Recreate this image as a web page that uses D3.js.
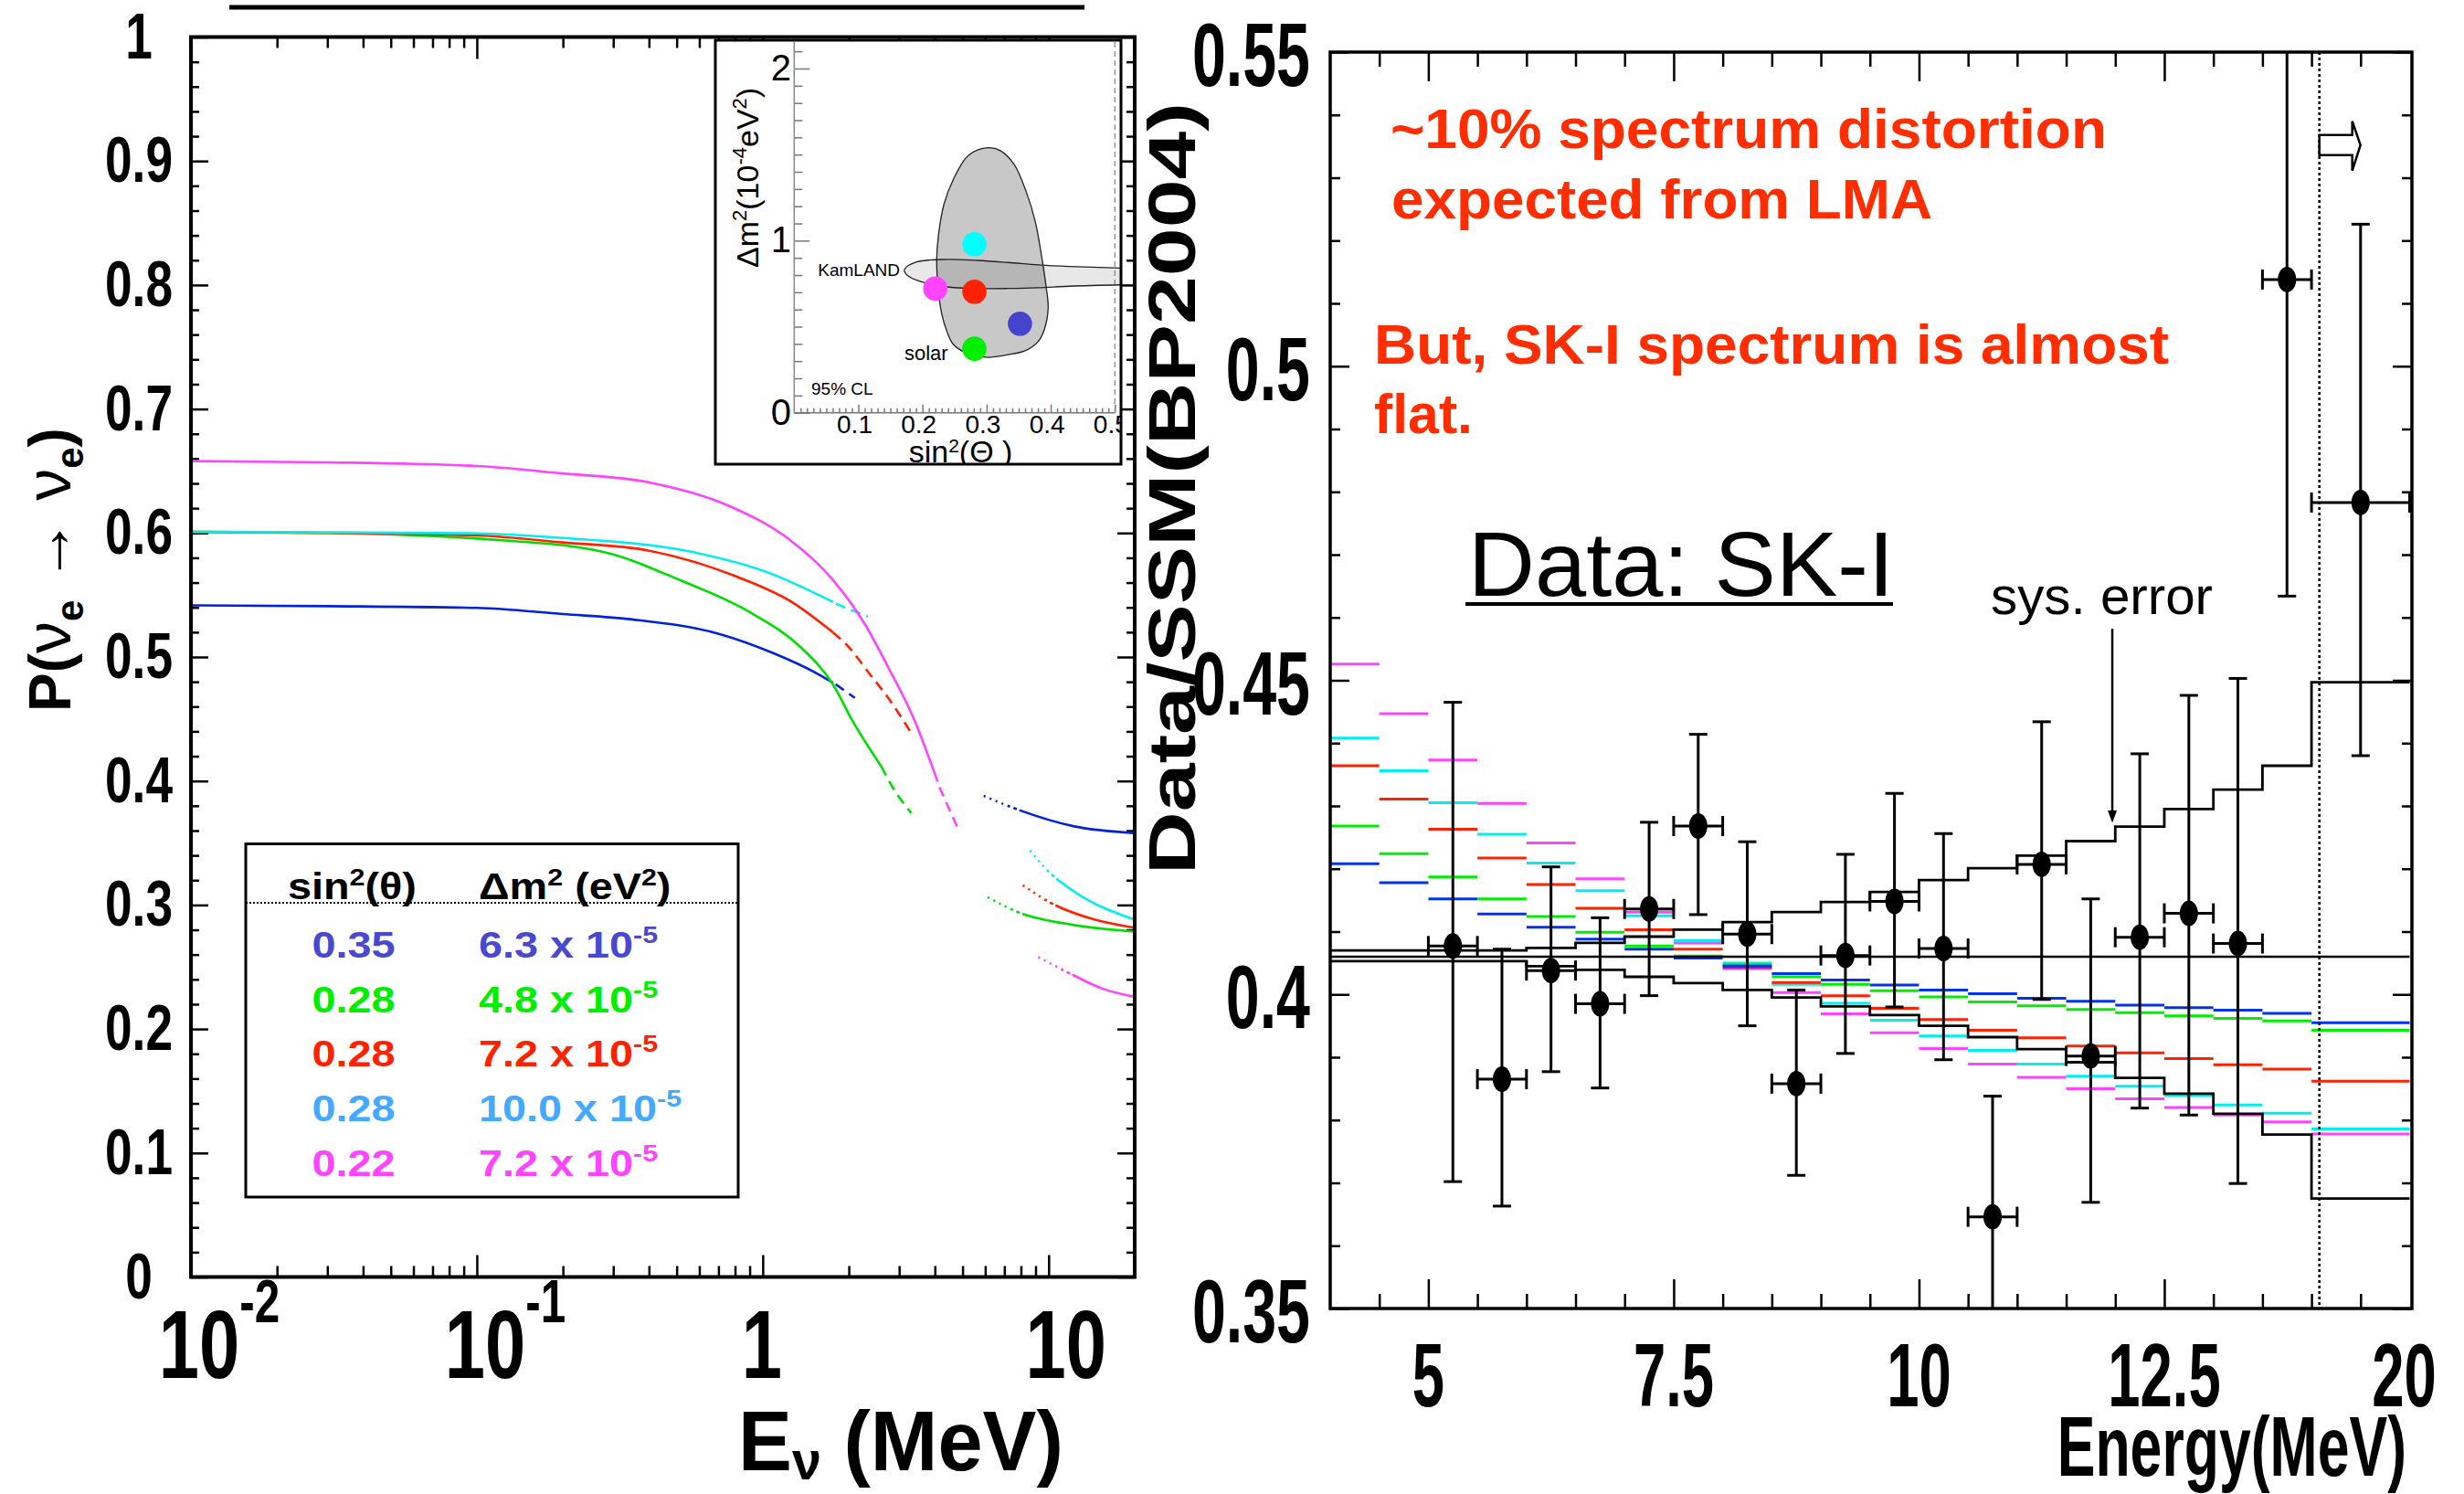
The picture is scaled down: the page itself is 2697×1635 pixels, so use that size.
<!DOCTYPE html>
<html>
<head>
<meta charset="utf-8">
<script src="https://cdn.jsdelivr.net/npm/d3@7"></script>
<style>
body { margin: 0; background: #fff; }
text { font-family: "Liberation Sans", Arial, Helvetica, sans-serif; }
</style>
</head>
<body>
<div id="chart"></div>
<script>
const width = 2697;
const height = 1635;

// ---------- left panel: survival probability curves ----------
const blueLow = [[0.01,0.5416],[0.03,0.541],[0.1,0.5396],[0.2,0.5346],[0.349,0.5303],[0.712,0.5183],[1.084,0.5033],[1.548,0.4867],[1.762,0.4792]];
const blueMid = [[1.80,0.478],[2.10,0.467]];
const blueHigh = [[5.93,0.388],[7.81,0.3769],[12.29,0.3634],[19.9,0.358]];

const greenLow = [[0.01,0.601],[0.03,0.600],[0.1,0.5955],[0.27,0.5853],[0.515,0.5619],[0.923,0.5348],[1.36,0.5077],[1.762,0.4777],[2.07,0.4477],[2.60,0.4116]];
const greenMid = [[2.60,0.4116],[2.82,0.3965],[3.31,0.374]];
const greenHigh = [[6.12,0.3063],[7.81,0.2943],[12.29,0.2838],[19.9,0.2786]];

const redLow = [[0.01,0.601],[0.03,0.600],[0.1,0.598],[0.2,0.5924],[0.397,0.5859],[0.81,0.5648],[1.275,0.5438],[1.762,0.5198]];
const redMid = [[1.762,0.5198],[2.005,0.5077],[2.358,0.4867],[2.773,0.4657],[3.31,0.4386]];
const redHigh = [[8.12,0.3159],[10.45,0.3003],[14.45,0.2883],[19.9,0.2817]];

const cyanLow = [[0.01,0.601],[0.03,0.6005],[0.1,0.5997],[0.2,0.596],[0.55,0.5853],[1.05,0.5679],[1.762,0.5444]];
const cyanMid = [[1.80,0.543],[2.33,0.5326]];
const cyanHigh = [[8.61,0.3439],[9.8,0.3289],[12.29,0.3108],[19.9,0.2883]];

const magentaLow = [[0.01,0.658],[0.03,0.657],[0.1,0.654],[0.2,0.648],[0.397,0.641],[0.76,0.622],[1.234,0.595],[1.762,0.562],[2.283,0.526],[2.773,0.490],[3.365,0.451],[4.09,0.3995]];
const magentaMid = [[4.15,0.395],[4.81,0.362]];
const magentaHigh = [[9.2,0.258],[12.29,0.243],[15.4,0.2326],[19.9,0.226]];

const curveColors = ["#0022dd", "#00dd00", "#ff2200", "#00eeee", "#ff44ff"];

const leftYTicks = [0, 0.1, 0.2, 0.3, 0.4, 0.5, 0.6, 0.7, 0.8, 0.9, 1];
const leftYLabels = ["0", "0.1", "0.2", "0.3", "0.4", "0.5", "0.6", "0.7", "0.8", "0.9", "1"];
const leftXTicks = [0.01, 0.1, 1, 10];
const leftXBase = ["10", "10", "1", "10"];
const leftXExp = ["-2", "-1", "", ""];
const leftMinorX = [0.02,0.03,0.04,0.05,0.06,0.07,0.08,0.09,0.2,0.3,0.4,0.5,0.6,0.7,0.8,0.9,2,3,4,5,6,7,8,9];

// legend
const legendSin = ["0.35", "0.28", "0.28", "0.28", "0.22"];
const legendDm = ["6.3", "4.8", "7.2", "10.0", "7.2"];
const legendColors = ["#4848d0", "#00ee00", "#ff2200", "#44aaff", "#ff44ff"];

// inset: allowed regions and the five parameter points
const solarContour = [[0.3025,1.540],[0.2717,1.496],[0.2479,1.354],[0.2336,1.213],[0.2251,1.036],[0.2222,0.894],[0.2242,0.735],[0.2299,0.576],[0.2384,0.469],[0.2479,0.398],[0.2645,0.354],[0.2859,0.328],[0.3049,0.322],[0.3333,0.337],[0.3618,0.363],[0.3809,0.416],[0.3903,0.487],[0.3960,0.611],[0.3927,0.735],[0.3856,0.912],[0.3761,1.107],[0.3618,1.284],[0.3429,1.443],[0.3215,1.523]];
const kamlandContour = [[0.1719,0.832],[0.1909,0.876],[0.2384,0.891],[0.2859,0.885],[0.3333,0.873],[0.3809,0.859],[0.4283,0.850],[0.5091,0.841],[0.53,0.84],[0.53,0.744],[0.5091,0.743],[0.4283,0.735],[0.3809,0.726],[0.3333,0.722],[0.2859,0.722],[0.2384,0.731],[0.1909,0.770],[0.1743,0.806]];
const insetSin = [0.352, 0.281, 0.281, 0.281, 0.220];
const insetDm = [0.517, 0.372, 0.703, 0.979, 0.721];
const insetColors = ["#4444cc", "#00ee00", "#ff2200", "#00ffff", "#ff44ff"];
const insetXTicks = [0.1, 0.2, 0.3, 0.4, 0.5];
const insetXLabels = ["0.1", "0.2", "0.3", "0.4", "0.5"];
const insetYTicks = [0, 1, 2];

// ---------- right panel: SK-I spectrum ----------
const binLo = [4,4.5,5,5.5,6,6.5,7,7.5,8,8.5,9,9.5,10,10.5,11,11.5,12,12.5,13,13.5,14];
const binHi = [4.5,5,5.5,6,6.5,7,7.5,8,8.5,9,9.5,10,10.5,11,11.5,12,12.5,13,13.5,14,15];

const modelMagenta = [0.4526,0.4447,0.4373,0.4304,0.4241,0.4184,0.4131,0.4082,0.4041,0.4003,0.3969,0.3939,0.3914,0.3889,0.3868,0.3850,0.3834,0.3820,0.3808,0.3797,0.3778];
const modelCyan = [0.4408,0.4356,0.4305,0.4255,0.4209,0.4165,0.4125,0.4086,0.4050,0.4016,0.3986,0.3959,0.3934,0.3911,0.3889,0.3870,0.3854,0.3839,0.3824,0.3811,0.3786];
const modelRed = [0.4364,0.4311,0.4263,0.4217,0.4175,0.4137,0.4103,0.4072,0.4043,0.4019,0.3998,0.3978,0.3960,0.3943,0.3931,0.3918,0.3907,0.3898,0.3888,0.3881,0.3862];
const modelGreen = [0.4268,0.4224,0.4187,0.4152,0.4124,0.4099,0.4077,0.4061,0.4047,0.4028,0.4016,0.4006,0.3996,0.3988,0.3982,0.3976,0.3971,0.3966,0.3962,0.3958,0.3943];
const modelBlue = [0.4208,0.4178,0.4152,0.4128,0.4107,0.4088,0.4072,0.4058,0.4045,0.4033,0.4023,0.4015,0.4007,0.4001,0.3994,0.3989,0.3983,0.3979,0.3975,0.3970,0.3955];
const modelColors = ["#ff44ff", "#00eeee", "#ff2200", "#00ee00", "#0033ee"];

const sysUpper = [0.4070,0.4070,0.4070,0.4070,0.4074,0.4082,0.4092,0.4103,0.4115,0.4131,0.4147,0.4163,0.4182,0.4201,0.4221,0.4244,0.4267,0.4295,0.4326,0.4364,0.4497];
const sysLower = [0.4053,0.4053,0.4053,0.4053,0.4045,0.4039,0.4028,0.4018,0.4007,0.3995,0.3981,0.3967,0.3950,0.3932,0.3913,0.3892,0.3867,0.3842,0.3810,0.3777,0.3675];
const flatLevel = 0.406;

const dataE = [5.25,5.75,6.25,6.75,7.25,7.75,8.25,8.75,9.25,9.75,10.25,10.75,11.25,11.75,12.25,12.75,13.25,13.75,14.5];
const dataLoE = [5,5.5,6,6.5,7,7.5,8,8.5,9,9.5,10,10.5,11,11.5,12,12.5,13,13.5,14];
const dataHiE = [5.5,6,6.5,7,7.5,8,8.5,9,9.5,10,10.5,11,11.5,12,12.5,13,13.5,14,15];
const dataV = [0.4077,0.3865,0.4038,0.3985,0.4136,0.4268,0.4096,0.3858,0.4062,0.4148,0.4073,0.3646,0.4207,0.3902,0.4091,0.4129,0.4081,0.5138,0.4783];
const dataHi = [0.4465,0.4072,0.4203,0.4122,0.4274,0.4414,0.4243,0.4007,0.4223,0.4320,0.4256,0.3838,0.4434,0.4152,0.4383,0.4476,0.4503,0.57,0.5226];
const dataLo = [0.3702,0.3663,0.3877,0.3851,0.3998,0.4127,0.3950,0.3712,0.3906,0.3980,0.3896,0.34,0.3992,0.3669,0.3819,0.3808,0.3699,0.4634,0.4380];

const rightYTicks = [0.35, 0.4, 0.45, 0.5, 0.55];
const rightYLabels = ["0.35", "0.4", "0.45", "0.5", "0.55"];
const rightXTicks = [5, 7.5, 10, 12.5, 15];
const rightXLabels = ["5", "7.5", "10", "12.5", "20"];
const dottedE = 14.08;

// ---------- drawing ----------
const svg = d3.select("#chart")
  .append("svg")
  .attr("width", width)
  .attr("height", height);

svg.append("rect").attr("width", width).attr("height", height).attr("fill", "#fff");

function txt(parent, x, y, s, o) {
  let tr = `translate(${x},${y})`;
  if (o.rot) tr += ` rotate(${o.rot})`;
  if (o.sx) tr += ` scale(${o.sx},1)`;
  const t = parent.append("text")
    .attr("transform", tr)
    .attr("font-size", o.size)
    .attr("font-weight", o.weight || "normal")
    .attr("text-anchor", o.anchor || "start")
    .attr("fill", o.fill || "#000");
  if (s != null) t.text(s);
  if (o.len) t.attr("textLength", o.len).attr("lengthAdjust", "spacingAndGlyphs");
  return t;
}

function tickAxis(parent, axis, tx, ty, size, color, sw) {
  const g = parent.append("g").attr("transform", `translate(${tx},${ty})`);
  g.call(axis.tickSize(size).tickSizeOuter(0).tickFormat(""));
  g.select(".domain").remove();
  g.selectAll("line").attr("stroke", color || "#000").attr("stroke-width", sw || 2.5);
  return g;
}

// ===== left panel =====
const xL = d3.scaleLog().domain([0.01, 20]).range([209, 1242]);
const yL = d3.scaleLinear().domain([0, 1]).range([1397.5, 40.5]);
const gL = svg.append("g");

// bar above the panel
gL.append("line").attr("x1", 251).attr("x2", 1187).attr("y1", 8).attr("y2", 8)
  .attr("stroke", "#000").attr("stroke-width", 5);

const leftMinorY = d3.range(1, 50).map(i => i * 0.02).filter((v, i) => (i + 1) % 5 !== 0);
tickAxis(gL, d3.axisBottom(xL).tickValues(leftMinorX), 0, yL(0), -12);
tickAxis(gL, d3.axisBottom(xL).tickValues([0.1, 1, 10]), 0, yL(0), -24);
tickAxis(gL, d3.axisTop(xL).tickValues(leftMinorX), 0, yL(1), -12);
tickAxis(gL, d3.axisTop(xL).tickValues([0.1, 1, 10]), 0, yL(1), -24);
tickAxis(gL, d3.axisLeft(yL).tickValues(leftMinorY), xL(0.01), 0, -9);
tickAxis(gL, d3.axisLeft(yL).tickValues(leftYTicks), xL(0.01), 0, -19);
tickAxis(gL, d3.axisRight(yL).tickValues(leftMinorY), xL(20), 0, -9);
tickAxis(gL, d3.axisRight(yL).tickValues(leftYTicks), xL(20), 0, -19);

const clipL = svg.append("clipPath").attr("id", "clipL");
clipL.append("rect").attr("x", xL(0.01)).attr("y", yL(1)).attr("width", xL(20) - xL(0.01)).attr("height", yL(0) - yL(1));

const lineL = d3.line().x(d => xL(d[0])).y(d => yL(d[1])).curve(d3.curveMonotoneX);
const curves = [
  { low: blueLow, mid: blueMid, high: blueHigh },
  { low: greenLow, mid: greenMid, high: greenHigh },
  { low: redLow, mid: redMid, high: redHigh },
  { low: cyanLow, mid: cyanMid, high: cyanHigh },
  { low: magentaLow, mid: magentaMid, high: magentaHigh }
].map((c, i) => Object.assign(c, { color: curveColors[i] }));

const gCurves = gL.append("g").attr("clip-path", "url(#clipL)").attr("fill", "none");
curves.forEach(c => {
  gCurves.append("path").attr("d", lineL(c.low)).attr("stroke", c.color).attr("stroke-width", 2.6);
  gCurves.append("path").attr("d", lineL(c.mid)).attr("stroke", c.color).attr("stroke-width", 2.6)
    .attr("stroke-dasharray", "11,7");
  gCurves.append("path").attr("d", lineL(c.high)).attr("stroke", c.color).attr("stroke-width", 2.6)
    .attr("stroke-dasharray", "2,5,2,5,2,5,2,5,3,4,4,3,2000");
});

// left tick labels
leftYTicks.forEach((v, i) => {
  txt(gL, 152, yL(v) + 23, leftYLabels[i], { size: 70, weight: "bold", anchor: "middle", sx: 0.76 });
});
leftXTicks.forEach((v, i) => {
  const shift = v === 10 ? 19 : (v === 1 ? -1 : 9);
  const baseW = leftXBase[i].length * 0.556 * 106 * 0.75;
  const t = txt(gL, xL(v) + shift - baseW / 2, 1508, null, { size: 106, weight: "bold", sx: 0.75 });
  t.append("tspan").text(leftXBase[i]);
  if (leftXExp[i]) t.append("tspan").attr("dy", -61).attr("font-size", 66).text(leftXExp[i]);
});

// left axis titles
const xt = txt(gL, 808, 1609, null, { size: 92, weight: "bold", sx: 0.96 });
xt.append("tspan").text("E");
xt.append("tspan").attr("dy", 10).attr("font-size", 60).text("ν");
xt.append("tspan").attr("dy", -10).text(" (MeV)");

const yt = txt(gL, 77, 779, null, { size: 64, weight: "bold", rot: -90 });
yt.append("tspan").text("P(");
yt.append("tspan").attr("font-weight", "normal").attr("font-size", 70).text("ν");
yt.append("tspan").attr("dy", 14).attr("font-size", 42).text("e");
yt.append("tspan").attr("dy", -14).attr("font-weight", "normal").attr("font-size", 70).text(" → ν");
yt.append("tspan").attr("dy", 14).attr("font-size", 42).text("e");
yt.append("tspan").attr("dy", -14).text(")");

// legend
const gLeg = gL.append("g");
gLeg.append("rect").attr("x", 269).attr("y", 923.5).attr("width", 539).attr("height", 386.5)
  .attr("fill", "#fff").attr("stroke", "#000").attr("stroke-width", 3);
gLeg.append("line").attr("x1", 269).attr("x2", 808).attr("y1", 988).attr("y2", 988)
  .attr("stroke", "#000").attr("stroke-width", 2).attr("stroke-dasharray", "2,2");
const h1 = txt(gLeg, 315, 984, null, { size: 40, weight: "bold", sx: 1.17 });
h1.append("tspan").text("sin");
h1.append("tspan").attr("dy", -15).attr("font-size", 26).text("2");
h1.append("tspan").attr("dy", 15).text("(θ)");
const h2 = txt(gLeg, 524, 984, null, { size: 40, weight: "bold", sx: 1.17 });
h2.append("tspan").text("Δm");
h2.append("tspan").attr("dy", -15).attr("font-size", 26).text("2");
h2.append("tspan").attr("dy", 15).text(" (eV");
h2.append("tspan").attr("dy", -15).attr("font-size", 26).text("2");
h2.append("tspan").attr("dy", 15).text(")");
legendSin.forEach((s, i) => {
  const by = 1047.6 + i * 59.9;
  txt(gLeg, 387, by, s, { size: 40, weight: "bold", anchor: "middle", sx: 1.17, fill: legendColors[i] });
  const t = txt(gLeg, 524, by, null, { size: 40, weight: "bold", sx: 1.17, fill: legendColors[i] });
  t.append("tspan").text(legendDm[i] + " x 10");
  t.append("tspan").attr("dy", -16).attr("font-size", 26).text("-5");
});

// left frame
gL.append("rect").attr("x", xL(0.01)).attr("y", yL(1)).attr("width", xL(20) - xL(0.01)).attr("height", yL(0) - yL(1))
  .attr("fill", "none").attr("stroke", "#000").attr("stroke-width", 4);

// ===== inset =====
const xI = d3.scaleLinear().domain([0, 0.5]).range([869.3, 1220.3]);
const yI = d3.scaleLinear().domain([0, 2.154]).range([451.7, 46]);
const gI = svg.append("g");
const clipI = svg.append("clipPath").attr("id", "clipI");
clipI.append("rect").attr("x", 783).attr("y", 44).attr("width", 444).attr("height", 464);
gI.append("rect").attr("x", 783).attr("y", 44).attr("width", 444).attr("height", 464).attr("fill", "#fff");
const gIc = gI.append("g").attr("clip-path", "url(#clipI)");

const insetMinorY = d3.range(1, 22).map(i => i / 10).filter(v => v !== 1 && v !== 2);
const insetMinorX = d3.range(1, 51).map(i => i / 100).filter((v, i) => (i + 1) % 10 !== 0);
tickAxis(gIc, d3.axisLeft(yI).tickValues(insetMinorY), xI(0), 0, -9, "#777", 1.5);
tickAxis(gIc, d3.axisLeft(yI).tickValues(insetYTicks), xI(0), 0, -17, "#777", 1.5);
tickAxis(gIc, d3.axisBottom(xI).tickValues(insetMinorX), 0, yI(0), -5, "#777", 1.5);
tickAxis(gIc, d3.axisBottom(xI).tickValues(insetXTicks), 0, yI(0), -9, "#777", 1.5);
gIc.append("line").attr("x1", xI(0)).attr("x2", xI(0)).attr("y1", yI(2.154)).attr("y2", yI(0))
  .attr("stroke", "#888").attr("stroke-width", 1.5);
gIc.append("line").attr("x1", xI(0)).attr("x2", xI(0.5)).attr("y1", yI(0)).attr("y2", yI(0))
  .attr("stroke", "#777").attr("stroke-width", 1.5);
gIc.append("line").attr("x1", xI(0.5)).attr("x2", xI(0.5)).attr("y1", yI(2.154)).attr("y2", yI(0))
  .attr("stroke", "#999").attr("stroke-width", 1.5).attr("stroke-dasharray", "6,4");

const lineI = d3.line().x(d => xI(d[0])).y(d => yI(d[1])).curve(d3.curveCatmullRomClosed);
gIc.append("path").attr("d", lineI(solarContour)).attr("fill", "#c8c8c8")
  .attr("stroke", "#222").attr("stroke-width", 1.3);
gIc.append("path").attr("d", lineI(kamlandContour)).attr("fill", "#000").attr("fill-opacity", 0.09)
  .attr("stroke", "#222").attr("stroke-width", 1.3);

insetSin.forEach((s, i) => {
  gIc.append("circle").attr("cx", xI(s)).attr("cy", yI(insetDm[i])).attr("r", 13.3).attr("fill", insetColors[i]);
});

insetYTicks.forEach(v => {
  txt(gIc, 866, yI(v) + 13, String(v), { size: 40, anchor: "end" });
});
insetXTicks.forEach((v, i) => {
  txt(gIc, xI(v) - 4, 474, insetXLabels[i], { size: 28, anchor: "middle" });
});
txt(gIc, 985, 302, "KamLAND", { size: 19, anchor: "end" });
txt(gIc, 990, 394, "solar", { size: 22 });
txt(gIc, 888, 432, "95% CL", { size: 19 });
const ixt = txt(gIc, 1051.5, 506, null, { size: 34, anchor: "middle" });
ixt.append("tspan").text("sin");
ixt.append("tspan").attr("dy", -11).attr("font-size", 21).text("2");
ixt.append("tspan").attr("dy", 11).text("(Θ )");
const iyt = txt(gIc, 830, 293, null, { size: 34, rot: -90 });
iyt.append("tspan").text("Δm");
iyt.append("tspan").attr("dy", -13).attr("font-size", 22).text("2");
iyt.append("tspan").attr("dy", 13).text("(10");
iyt.append("tspan").attr("dy", -13).attr("font-size", 22).text("-4");
iyt.append("tspan").attr("dy", 13).text("eV");
iyt.append("tspan").attr("dy", -13).attr("font-size", 22).text("2");
iyt.append("tspan").attr("dy", 13).text(")");

gI.append("rect").attr("x", 783).attr("y", 44).attr("width", 444).attr("height", 464)
  .attr("fill", "none").attr("stroke", "#000").attr("stroke-width", 3);

// ===== right panel =====
const xR = d3.scaleLinear().domain([4, 15]).range([1456, 2637.5]);
const yR = d3.scaleLinear().domain([0.35, 0.55]).range([1432, 57]);
const gR = svg.append("g");

const rightMinorX = d3.range(9, 30).map(i => i / 2).filter(v => ![5, 7.5, 10, 12.5].includes(v));
const rightMinorY = d3.range(36, 55).map(i => i / 100).filter(v => Math.round(v * 100) % 5 !== 0);
tickAxis(gR, d3.axisBottom(xR).tickValues(rightMinorX), 0, yR(0.35), -16);
tickAxis(gR, d3.axisBottom(xR).tickValues([5, 7.5, 10, 12.5]), 0, yR(0.35), -32);
tickAxis(gR, d3.axisTop(xR).tickValues(rightMinorX), 0, yR(0.55), -16);
tickAxis(gR, d3.axisTop(xR).tickValues([5, 7.5, 10, 12.5]), 0, yR(0.55), -32);
tickAxis(gR, d3.axisLeft(yR).tickValues(rightMinorY), xR(4), 0, -11);
tickAxis(gR, d3.axisLeft(yR).tickValues(rightYTicks), xR(4), 0, -21);
tickAxis(gR, d3.axisRight(yR).tickValues(rightMinorY), 2640, 0, -11);
tickAxis(gR, d3.axisRight(yR).tickValues(rightYTicks), 2640, 0, -21);

const clipR = svg.append("clipPath").attr("id", "clipR");
clipR.append("rect").attr("x", xR(4)).attr("y", yR(0.55)).attr("width", 2640 - xR(4)).attr("height", yR(0.35) - yR(0.55));
const gRc = gR.append("g").attr("clip-path", "url(#clipR)");

// model predictions, one segment per bin
[modelMagenta, modelCyan, modelRed, modelGreen, modelBlue].forEach((series, k) => {
  gRc.append("g").selectAll("line").data(series).enter().append("line")
    .attr("x1", (d, i) => xR(binLo[i]))
    .attr("x2", (d, i) => xR(binHi[i]))
    .attr("y1", d => yR(d))
    .attr("y2", d => yR(d))
    .attr("stroke", modelColors[k])
    .attr("stroke-width", 3);
});

// systematic error band
const stepLine = d3.line().x(d => xR(d[0])).y(d => yR(d[1])).curve(d3.curveStepAfter);
[sysUpper, sysLower].forEach(series => {
  const pts = series.map((v, i) => [binLo[i], v]);
  pts.push([15, series[series.length - 1]]);
  gRc.append("path").attr("d", stepLine(pts)).attr("fill", "none").attr("stroke", "#000").attr("stroke-width", 2.8);
});
gRc.append("line").attr("x1", xR(4)).attr("x2", xR(15)).attr("y1", yR(flatLevel)).attr("y2", yR(flatLevel))
  .attr("stroke", "#000").attr("stroke-width", 2.6);

// 14-20 MeV separator
gRc.append("line").attr("x1", xR(dottedE)).attr("x2", xR(dottedE)).attr("y1", yR(0.55)).attr("y2", yR(0.35))
  .attr("stroke", "#000").attr("stroke-width", 2.5).attr("stroke-dasharray", "3,3");

// data points
const gPts = gRc.append("g").attr("stroke", "#000").attr("stroke-width", 3);
dataE.forEach((e, i) => {
  const cx = xR(e), cy = yR(dataV[i]);
  gPts.append("line").attr("x1", cx).attr("x2", cx).attr("y1", yR(dataHi[i])).attr("y2", yR(dataLo[i]));
  gPts.append("line").attr("x1", cx - 10).attr("x2", cx + 10).attr("y1", yR(dataHi[i])).attr("y2", yR(dataHi[i]));
  gPts.append("line").attr("x1", cx - 10).attr("x2", cx + 10).attr("y1", yR(dataLo[i])).attr("y2", yR(dataLo[i]));
  gPts.append("line").attr("x1", xR(dataLoE[i])).attr("x2", xR(dataHiE[i])).attr("y1", cy).attr("y2", cy);
  gPts.append("line").attr("x1", xR(dataLoE[i])).attr("x2", xR(dataLoE[i])).attr("y1", cy - 11).attr("y2", cy + 11);
  gPts.append("line").attr("x1", xR(dataHiE[i])).attr("x2", xR(dataHiE[i])).attr("y1", cy - 11).attr("y2", cy + 11);
  gPts.append("ellipse").attr("cx", cx).attr("cy", cy).attr("rx", 10).attr("ry", 14)
    .attr("fill", "#000").attr("stroke", "none");
});

// open arrow pointing to the 14-20 MeV bin
const ax = xR(dottedE), ay = yR(0.5352);
gR.append("path")
  .attr("d", `M${ax},${ay - 11} L${ax + 36},${ay - 11} L${ax + 36},${ay - 26} L${ax + 45},${ay} L${ax + 36},${ay + 28} L${ax + 36},${ay + 11} L${ax},${ay + 11} Z`)
  .attr("fill", "#fff").attr("stroke", "#000").attr("stroke-width", 2.5);

// sys. error pointer
const sx = xR(11.97);
gR.append("line").attr("x1", sx).attr("x2", sx).attr("y1", yR(0.4582)).attr("y2", yR(0.4290))
  .attr("stroke", "#000").attr("stroke-width", 2.5);
gR.append("path").attr("d", `M${sx - 5},${yR(0.4290) - 2} L${sx + 5},${yR(0.4290) - 2} L${sx},${yR(0.4273)} Z`)
  .attr("fill", "#000");

// annotations
const red = "#ff2d00";
txt(gR, 1522, 162, "~10% spectrum distortion", { size: 62, weight: "bold", fill: red, len: 784 });
txt(gR, 1523, 239, "expected from LMA", { size: 62, weight: "bold", fill: red, len: 592 });
txt(gR, 1504, 398, "But, SK-I spectrum is almost", { size: 62, weight: "bold", fill: red, len: 870 });
txt(gR, 1504, 474, "flat.", { size: 62, weight: "bold", fill: red, len: 108 });
txt(gR, 1607, 652, "Data: SK-I", { size: 100, len: 466 });
gR.append("line").attr("x1", 1604).attr("x2", 2072).attr("y1", 661).attr("y2", 661)
  .attr("stroke", "#000").attr("stroke-width", 4);
txt(gR, 2179, 672, "sys. error", { size: 58, len: 243 });

// right tick labels and titles
rightYTicks.forEach((v, i) => {
  txt(gR, 1434, yR(v) + 37, rightYLabels[i], { size: 99, weight: "bold", anchor: "end", sx: 0.67 });
});
rightXTicks.forEach((v, i) => {
  txt(gR, xR(v) - (v === 15 ? 6 : 0), 1539, rightXLabels[i], { size: 99, weight: "bold", anchor: "middle", sx: 0.64 });
});
txt(gR, 2634, 1615, "Energy(MeV)", { size: 92, weight: "bold", anchor: "end", sx: 0.68 });
txt(gR, 1308, 957, "Data/SSM(BP2004)", { size: 72, weight: "bold", rot: -90, len: 845 });

gR.append("rect").attr("x", xR(4)).attr("y", yR(0.55)).attr("width", 2640 - xR(4)).attr("height", yR(0.35) - yR(0.55))
  .attr("fill", "none").attr("stroke", "#000").attr("stroke-width", 3.5);
</script>
</body>
</html>
